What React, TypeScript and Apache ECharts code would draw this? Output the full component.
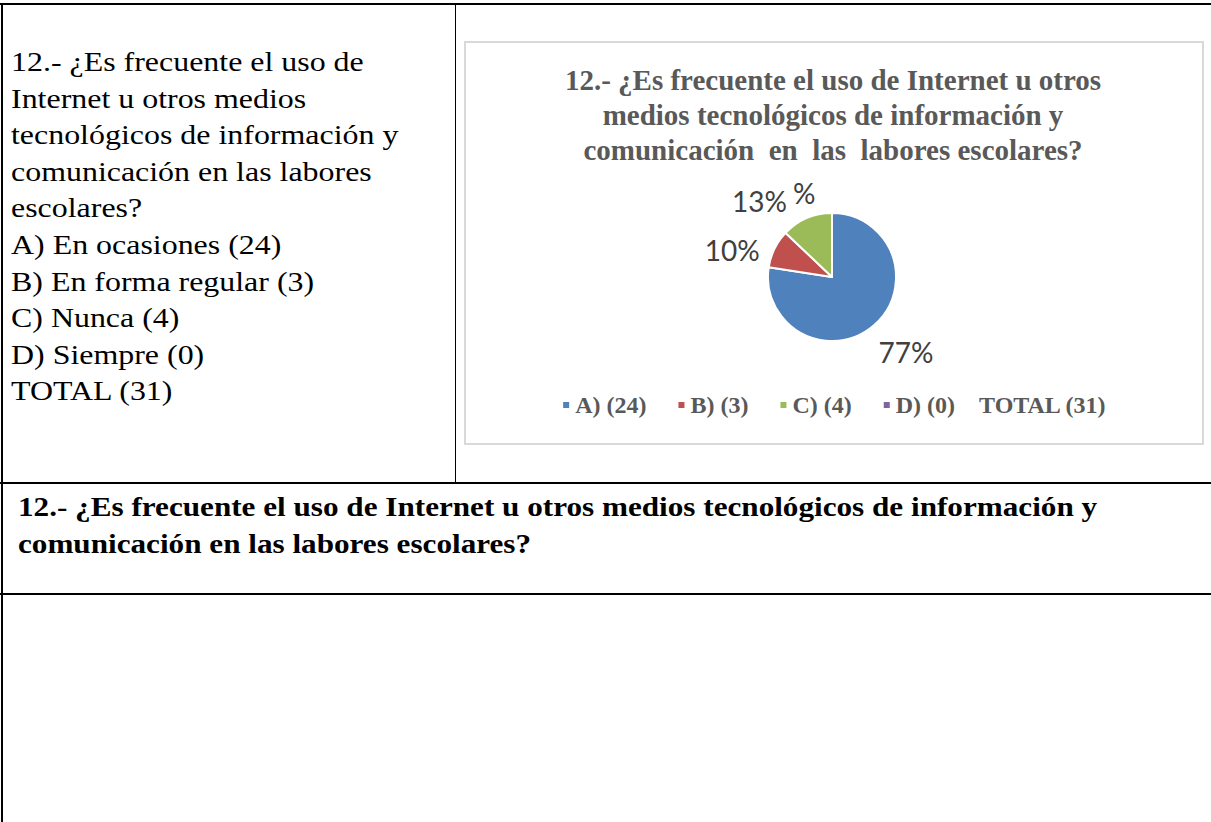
import React, { useEffect, useRef } from "react";
import * as echarts from "echarts";

const QUESTION = "12.- ¿Es frecuente el uso de Internet u otros medios tecnológicos de información y comunicación en las labores escolares?";
const LEFT_LINES = [
  "12.- ¿Es frecuente el uso de",
  "Internet u otros medios",
  "tecnológicos de información y",
  "comunicación en las labores",
  "escolares?",
];
const CHART_TITLE = "12.- ¿Es frecuente el uso de Internet u otros\nmedios tecnológicos de información y\ncomunicación  en  las  labores escolares?";
const LETTERS = ["A", "B", "C", "D"];
const OPTION_TEXTS = ["En ocasiones", "En forma regular", "Nunca", "Siempre"];
const COUNTS = [24, 3, 4, 0];
const TOTAL = 31;
const COLORS = ["#4f81bd", "#c0504d", "#9bbb59", "#8064a2"];
const LEGEND_NAMES = LETTERS.map((l, i) => `${l}) (${COUNTS[i]})`);
const TOTAL_LABEL = `TOTAL (${TOTAL})`;
// small label nudges (style), per slice
const LABEL_NUDGE = [
  [-8, 17],
  [1, 6],
  [-10, -6],
  [-44, -8],
];

function PieChart() {
  const ref = useRef<HTMLDivElement>(null);
  useEffect(() => {
    if (!ref.current) return;
    const chart = echarts.init(ref.current, undefined, { renderer: "svg" });
    chart.setOption({
      animation: false,
      title: {
        text: CHART_TITLE,
        left: 367,
        top: 19,
        padding: 0,
        textAlign: "center",
        textStyle: {
          fontFamily: "Liberation Serif",
          fontWeight: "bold",
          fontSize: 29,
          lineHeight: 35,
          color: "#595959",
        },
      },
      legend: {
        bottom: 21,
        left: "center",
        itemWidth: 8,
        itemHeight: 8,
        itemGap: 30,
        icon: "rect",
        data: LEGEND_NAMES,
        formatter: (name: string) =>
          name === LEGEND_NAMES[LEGEND_NAMES.length - 1]
            ? `${name}\u00a0\u00a0\u00a0\u00a0${TOTAL_LABEL}`
            : name,
        textStyle: {
          fontFamily: "Liberation Serif",
          fontWeight: "bold",
          fontSize: 24,
          color: "#595959",
        },
      },
      series: [
        {
          type: "pie",
          center: [366, 234],
          radius: 64,
          startAngle: 90,
          clockwise: true,
          percentPrecision: 0,
          avoidLabelOverlap: false,
          data: LEGEND_NAMES.map((name, i) => ({
            name,
            value: COUNTS[i],
            itemStyle: { color: COLORS[i] },
          })),
          itemStyle: { borderColor: "#ffffff", borderWidth: 2 },
          label: {
            show: true,
            position: "outside",
            fontFamily: "Lato",
            fontSize: 28,
            color: "#404040",
            formatter: (p: any) => (p.value === 0 ? "%" : `${p.percent}%`),
          },
          labelLine: { show: false, length: 12, length2: 0 },
          labelLayout: (p: any) => ({
            dx: LABEL_NUDGE[p.dataIndex][0],
            dy: LABEL_NUDGE[p.dataIndex][1],
          }),
        },
      ],
    });
    return () => chart.dispose();
  }, []);
  return <div ref={ref} style={{ width: 736, height: 400 }} />;
}

export default function App() {
  const line = (style: React.CSSProperties) => (
    <div style={{ position: "absolute", background: "#000", ...style }} />
  );
  const leftLines = [
    ...LEFT_LINES,
    ...LETTERS.map((l, i) => `${l}) ${OPTION_TEXTS[i]} (${COUNTS[i]})`),
    `TOTAL (${TOTAL})`,
  ];
  return (
    <div
      style={{
        position: "absolute",
        left: 0,
        top: 0,
        width: 1211,
        height: 822,
        background: "#fff",
        overflow: "hidden",
        fontFamily: "'Liberation Serif', serif",
      }}
    >
      {line({ left: 0, top: 3, width: 1211, height: 2 })}
      {line({ left: 1, top: 3, width: 2, height: 819 })}
      {line({ left: 455, top: 3, width: 1, height: 480 })}
      {line({ left: 0, top: 482, width: 1211, height: 2 })}
      {line({ left: 0, top: 593, width: 1211, height: 2 })}
      <div
        style={{
          position: "absolute",
          left: 11,
          top: 44,
          fontSize: 28,
          lineHeight: "36.6px",
          color: "#000",
          whiteSpace: "pre",
          transform: "scaleX(1.14)",
          transformOrigin: "0 0",
        }}
      >
        {leftLines.map((t, i) => (
          <div key={i}>{t}</div>
        ))}
      </div>
      <div
        style={{
          position: "absolute",
          left: 18,
          top: 489,
          width: 1020,
          fontSize: 28,
          fontWeight: "bold",
          lineHeight: "36.5px",
          color: "#000",
          transform: "scaleX(1.113)",
          transformOrigin: "0 0",
        }}
      >
        {QUESTION}
      </div>
      <div
        style={{
          position: "absolute",
          left: 464,
          top: 41,
          width: 740,
          height: 404,
          boxSizing: "border-box",
          border: "2px solid #d9d9d9",
          background: "#fff",
        }}
      >
        <PieChart />
      </div>
    </div>
  );
}
